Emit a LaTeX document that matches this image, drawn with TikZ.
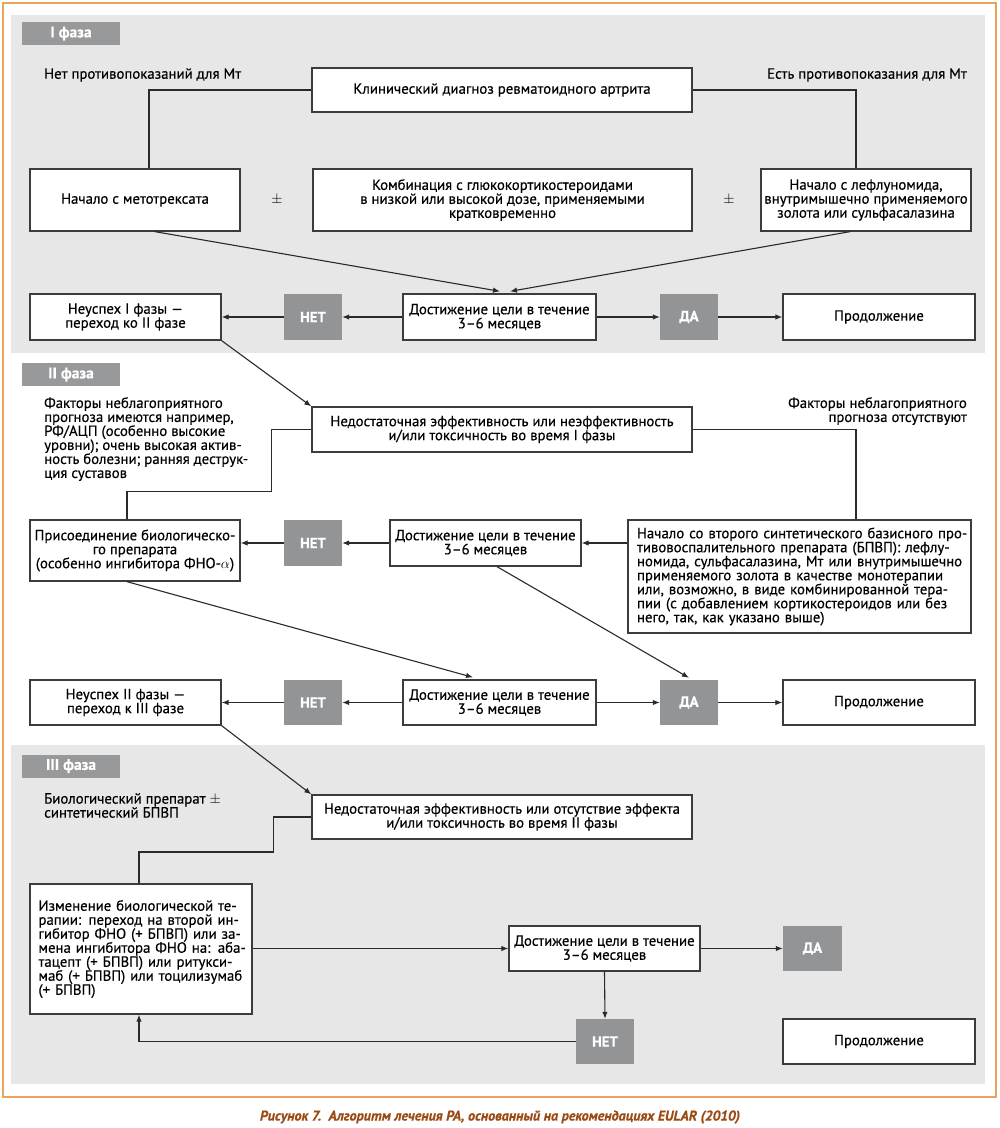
\documentclass[tikz,border=0pt]{standalone}
\usepackage{fontspec}
\setmainfont{PT Sans}[FakeBold=0.35]
\usetikzlibrary{arrows.meta,calc}
\definecolor{panel}{HTML}{E7E7E8}
\definecolor{labgrey}{HTML}{98999B}
\definecolor{dagrey}{HTML}{939496}
\definecolor{linec}{HTML}{2A2A2A}
\definecolor{boxline}{HTML}{3C3C3C}
\definecolor{frameor}{HTML}{E9A45A}
\definecolor{capc}{HTML}{9A4A14}
\newcommand{\JL}[2]{\makebox[#1][s]{#2}}
\begin{document}
\begin{tikzpicture}[x=1pt,y=-1pt,
  every node/.style={font=\fontsize{14.8}{14}\selectfont, inner sep=0pt},
  box/.style={draw=boxline, line width=1.3pt, fill=white, align=center},
  dec/.style={fill=dagrey, text=white, font=\fontsize{14.8}{14}\selectfont\bfseries, minimum width=58pt, minimum height=46pt},
  lab/.style={fill=labgrey, text=white, font=\fontsize{15.5}{14}\selectfont\bfseries, minimum width=98pt, minimum height=23pt},
  con/.style={draw=linec, line width=1.1pt},
  arr/.style={con, -{Latex[length=7pt,width=5.5pt]}},
  note/.style={align=left}
]
\useasboundingbox (0,0) rectangle (1000,1128);
\fill[white] (0,0) rectangle (1000,1128);
\draw[frameor, line width=1.3pt] (3,3) rectangle (996,1097);
\fill[panel] (11,15) rectangle (985,353);
\fill[panel] (11,745) rectangle (985,1084);

% labels
\node[lab] (lab1) at (71,33.5) {I фаза};
\node[lab] (lab2) at (71,374.5) {II фаза};
\node[lab] (lab3) at (71,766) {III фаза};

% ---------- Phase I
\node[box, minimum width=380pt, minimum height=44pt] (diag) at (502,90) {Клинический диагноз ревматоидного артрита};
\node[anchor=west] (noc) at (44,75) {Нет противопоказаний для Мт};
\node[anchor=east] (yesc) at (967,75) {Есть противопоказания для Мт};
\node[box, minimum width=210pt, minimum height=62pt] (metho) at (135,200) {Начало с метотрексата};
\node[box, minimum width=379pt, minimum height=62pt] (combo) at (502.5,200) {Комбинация с глюкокортикостероидами\\в низкой или высокой дозе, применяемыми\\кратковременно};
\node[box, minimum width=210pt, minimum height=62pt] (lefl) at (866,200) {Начало с лефлуномида,\\внутримышечно применяемого\\золота или сульфасалазина};
\node (pm1) at (277,200) {$\pm$};
\node (pm2) at (729,200) {$\pm$};

\node[box, minimum width=191pt, minimum height=46pt] (fail1) at (125.5,317) {Неуспех I фазы —\\переход ко II фазе};
\node[dec] (net1) at (313,317) {НЕТ};
\node[box, minimum width=193pt, minimum height=46pt] (goal1) at (499.5,317) {Достижение цели в течение\\3–6 месяцев};
\node[dec] (da1) at (689,317) {ДА};
\node[box, minimum width=192pt, minimum height=46pt] (cont1) at (879,317) {Продолжение};

\draw[con] (diag.west) -| ($(metho.north)+(14,0)$);
\draw[con] (diag.east) -| ($(lefl.north)+(-10,0)$);
\draw[arr] ($(metho.south)+(20,0)$) -- ($(goal1.north)+(0.5,-2)$);
\draw[arr] ($(lefl.south)+(-16,0)$) -- ($(goal1.north)+(10.5,-2)$);
\draw[arr] (goal1.west) -- (net1.east);
\draw[arr] (net1.west) -- (fail1.east);
\draw[arr] (goal1.east) -- (da1.west);
\draw[arr] (da1.east) -- (cont1.west);

% ---------- Phase II
\node[box, minimum width=380pt, minimum height=45pt] (ins1) at (502,429.5) {Недостаточная эффективность или неэффективность\\и/или токсичность во время I фазы};
\node[note, anchor=north west] (fac1) at (44,397) {Факторы неблагоприятного\\прогноза имеются например,\\РФ/АЦП (особенно высокие\\уровни); очень высокая актив-\\ность болезни; ранняя деструк-\\ция суставов};
\node[align=right, anchor=north east] (fac2) at (967,397) {Факторы неблагоприятного\\прогноза отсутствуют};

\node[box, minimum width=343pt, minimum height=113pt, text width=325pt, align=left] (start2) at (799.5,576.5) {\JL{325pt}{Начало со второго синтетического базисного про-}\\\JL{325pt}{тивовоспалительного препарата (БПВП): лефлу-}\\\JL{325pt}{номида, сульфасалазина, Мт или внутримышечно}\\\JL{325pt}{применяемого золота в качестве монотерапии}\\\JL{325pt}{или, возможно, в виде комбинированной тера-}\\\JL{325pt}{пии (с добавлением кортикостероидов или без}\\него, так, как указано выше)};
\node[box, minimum width=191pt, minimum height=46pt] (goal2) at (485.5,543) {Достижение цели в течение\\3–6 месяцев};
\node[dec] (net2) at (313,543) {НЕТ};
\node[box, minimum width=210pt, minimum height=61pt] (bio) at (135,550.5) {Присоединение биологическо-\\го препарата\\(особенно ингибитора ФНО-$\alpha$)};

\node[box, minimum width=191pt, minimum height=45pt] (fail2) at (125.5,702.5) {Неуспех II фазы —\\переход к III фазе};
\node[dec, minimum height=45pt] (net3) at (313,702.5) {НЕТ};
\node[box, minimum width=193pt, minimum height=45pt] (goal3) at (499.5,702.5) {Достижение цели в течение\\3–6 месяцев};
\node[dec, minimum height=45pt] (da2) at (689,702.5) {ДА};
\node[box, minimum width=192pt, minimum height=45pt] (cont2) at (879,702.5) {Продолжение};

\draw[arr] (fail1.south east) -- (ins1.north west);
\draw[con] (ins1.west) -- ++(-40,0) -- ++(0,62) -| ($(bio.north)+(-8,0)$);
\draw[con] (ins1.east) -| ($(start2.north)+(56.5,0)$);
\draw[arr] (start2.west |- goal2.east) -- (goal2.east);
\draw[arr] (goal2.west) -- (net2.east);
\draw[arr] (net2.west) -- (bio.east |- net2.west);
\draw[arr] ($(bio.south)+(-8,0)$) -- ($(goal3.north)+(-26.5,-2)$);
\draw[arr] ($(goal2.south)+(11.5,0)$) -- ($(da2.north)+(0,-2)$);
\draw[arr] (goal3.west) -- (net3.east);
\draw[arr] (net3.west) -- (fail2.east);
\draw[arr] (goal3.east) -- (da2.west);
\draw[arr] (da2.east) -- (cont2.west);

% ---------- Phase III
\node[box, minimum width=380pt, minimum height=44pt] (ins2) at (502,817) {Недостаточная эффективность или отсутствие эффекта\\и/или токсичность во время II фазы};
\node[note, anchor=north west] (bionote) at (44,793) {Биологический препарат $\pm$\\синтетический БПВП};
\node[box, minimum width=222pt, minimum height=130pt, text width=205pt, align=left] (change) at (141,949) {\JL{205pt}{Изменение биологической те-}\\\JL{205pt}{рапии: переход на второй ин-}\\\JL{205pt}{гибитор ФНО (+ БПВП) или за-}\\\JL{205pt}{мена ингибитора ФНО на: аба-}\\\JL{205pt}{тацепт (+ БПВП) или ритукси-}\\\JL{205pt}{маб (+ БПВП) или тоцилизумаб}\\(+ БПВП)};
\node[box, minimum width=191pt, minimum height=45pt] (goal4) at (604.5,948.5) {Достижение цели в течение\\3–6 месяцев};
\node[dec, minimum width=59pt, minimum height=45pt] (da3) at (812.5,948.5) {ДА};
\node[dec, minimum height=45pt] (net4) at (605,1041.5) {НЕТ};
\node[box, minimum width=192pt, minimum height=45pt] (cont3) at (879,1041.5) {Продолжение};

\draw[arr] (fail2.south east) -- (ins2.north west);
\draw[con] (ins2.west) -- ++(-38,0) -- ++(0,35) -| ($(change.north)+(-2,0)$);
\draw[arr] (change.east |- goal4.west) -- (goal4.west);
\draw[arr] (goal4.east) -- (da3.west);
\draw[arr] (goal4.south) -- (net4.north);
\draw[arr] (net4.west) -| ($(change.south)+(-2,0)$);

% caption
\node[text=capc, font=\fontsize{14.1}{16}\selectfont\bfseries\itshape] (cap) at (500,1117) {Рисунок 7.~~Алгоритм лечения РА, основанный на рекомендациях EULAR (2010)};
\end{tikzpicture}
\end{document}
